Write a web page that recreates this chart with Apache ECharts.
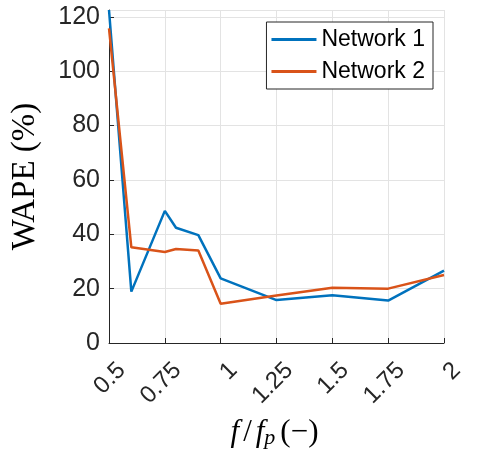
<!DOCTYPE html>
<html>
<head>
<meta charset="utf-8">
<script src="https://cdn.jsdelivr.net/npm/echarts@6/dist/echarts.min.js"></script>
<style>html,body{margin:0;padding:0;background:#fff}#c{width:482px;height:450px}</style>
</head>
<body>
<div id="c"></div>
<script>
const xValues = [0.5, 0.6, 0.75, 0.8, 0.9, 1.0, 1.25, 1.5, 1.75, 2.0];
const network1 = [122.5, 18.9, 48.6, 42.4, 39.7, 23.8, 15.8, 17.6, 15.6, 26.6];
const network2 = [115.7, 35.2, 33.5, 34.6, 34.0, 14.4, 17.5, 20.3, 20.0, 25.0];
const seriesNames = ['Network 1', 'Network 2'];
const colors = ['#0072BD', '#D95319'];

const chart = echarts.init(document.getElementById('c'));
const pair = (ys) => xValues.map((x, i) => [x, ys[i]]);
const axisCol = '#262626';
chart.setOption({
  animation: false,
  grid: { left: 109, right: 38, top: 10, bottom: 107, containLabel: false, outerBoundsMode: 'none' },
  legend: {
    right: 49, top: 22, orient: 'vertical',
    data: seriesNames.map(n => ({ name: n, icon: 'rect' })),
    itemWidth: 45, itemHeight: 3, itemGap: 9,
    padding: [6, 8, 6, 5],
    borderColor: '#262626', borderWidth: 1, backgroundColor: '#fff',
    textStyle: { fontFamily: 'Liberation Sans', fontSize: 23, color: '#000' }
  },
  xAxis: {
    type: 'value', min: 0.5, max: 2, interval: 0.25,
    axisLine: { show: true, lineStyle: { color: axisCol, width: 1 } },
    axisTick: { show: true, inside: true, length: 5, lineStyle: { color: axisCol } },
    axisLabel: { rotate: 45, fontFamily: 'Liberation Sans', fontSize: 24, color: '#262626', margin: 11,
      align: 'right', verticalAlign: 'top', padding: [6, 0, 0, 0] },
    splitLine: { show: true, lineStyle: { color: '#e3e3e3', width: 1 } },
    name: '{i|f}{n|/}{i|f}{s|p}{n|(−)}', nameLocation: 'middle', nameGap: 75,
    nameTextStyle: {
      lineHeight: 30,
      rich: {
        i: { fontFamily: 'Liberation Serif', fontStyle: 'italic', fontSize: 31, color: '#000', lineHeight: 30 },
        n: { fontFamily: 'Liberation Serif', fontSize: 31, color: '#000', padding: [0, 4, 0, 4], lineHeight: 30 },
        s: { fontFamily: 'Liberation Serif', fontStyle: 'italic', fontSize: 22, color: '#000', lineHeight: 30, padding: [10, 1, 0, 0] }
      }
    }
  },
  yAxis: {
    type: 'value', min: 0, max: 122.5, interval: 20,
    axisLine: { show: true, lineStyle: { color: axisCol, width: 1 } },
    axisTick: { show: true, inside: true, length: 5, lineStyle: { color: axisCol } },
    axisLabel: { fontFamily: 'Liberation Sans', fontSize: 25, color: '#262626', margin: 9, showMaxLabel: false,
      formatter: v => (Math.abs(v % 20) < 1e-9 ? String(v) : '') },
    splitLine: { show: true, lineStyle: { color: '#e3e3e3', width: 1 } },
    name: 'WAPE (%)', nameLocation: 'middle', nameGap: 67, nameRotate: 90,
    nameTextStyle: { fontFamily: 'Liberation Serif', fontSize: 33, color: '#000' }
  },
  series: seriesNames.map((n, k) => ({
    name: n, type: 'line', data: pair(k === 0 ? network1 : network2),
    symbol: 'none', lineStyle: { color: colors[k], width: 2.5 }, itemStyle: { color: colors[k] },
    clip: true
  }))
});
</script>
</body>
</html>
